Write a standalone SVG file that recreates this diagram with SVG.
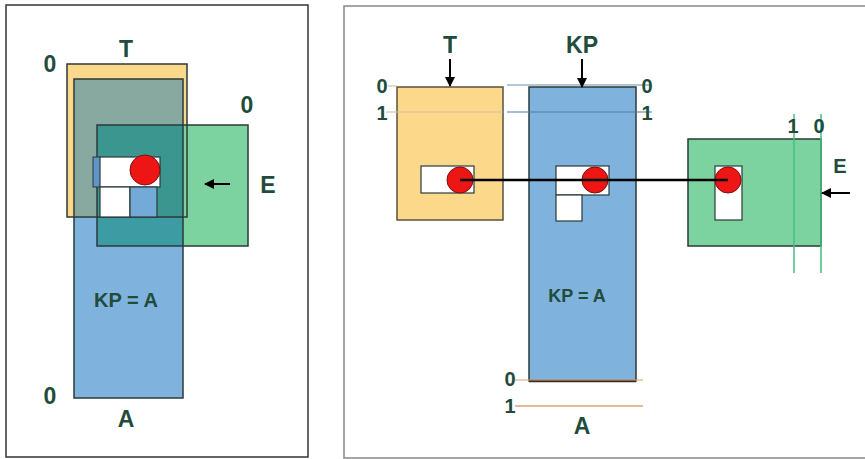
<svg xmlns="http://www.w3.org/2000/svg" width="865" height="459" viewBox="0 0 865 459">
<defs>
<style>
.lbl{font-family:"Liberation Sans",Arial,sans-serif;font-weight:bold;fill:#214c3c;text-anchor:middle}
.big{font-size:23px}
.mid{font-size:20px}
.sm{font-size:18px}
.ol{fill:none;stroke:#2b3a3a;stroke-width:1.5}
.wh{fill:#ffffff;stroke:#2b3a3a;stroke-width:1.2}
.dot{fill:#ee1515;stroke:#7a1010;stroke-width:1}
.arr{stroke:#000;stroke-width:2;fill:none}
</style>
<marker id="ah" viewBox="0 0 10 10" refX="9" refY="5" markerWidth="5" markerHeight="5" orient="auto" markerUnits="strokeWidth">
<path d="M0,0 L10,5 L0,10 Z" fill="#000"/>
</marker>
</defs>
<rect width="865" height="459" fill="#fff"/>
<!-- left panel -->
<g id="left-panel">
<rect x="6" y="5" width="302" height="452" fill="#fff" stroke="#333" stroke-width="1.5"/>
<g id="left-T"><rect x="67" y="64" width="120" height="153" fill="#fcd98a"/></g>
<g id="left-KP"><rect x="74" y="79" width="109" height="319" fill="#7fb2dc"/>
<rect x="74" y="79" width="109" height="138" fill="#88a99f"/></g>
<g id="left-E"><rect x="97" y="125" width="151" height="121" fill="#7dd3a0"/>
<rect x="97" y="125" width="86" height="121" fill="#3d9ba4"/>
<rect x="97" y="125" width="86" height="92" fill="#3a968e"/></g>
<rect class="ol" x="67" y="64" width="120" height="153"/>
<rect class="ol" x="74" y="79" width="109" height="319"/>
<rect class="ol" x="97" y="125" width="151" height="121"/>
<g id="left-cells">
<rect x="93" y="157" width="8" height="30" fill="#5f95c6" stroke="#2b3a3a" stroke-width="1"/>
<rect class="wh" x="100" y="157" width="60" height="30"/>
<rect class="wh" x="100" y="187" width="30" height="30"/>
<rect x="130" y="187" width="27" height="30" fill="#74aad8" stroke="#2b3a3a" stroke-width="1.2"/>
<circle class="dot" cx="145" cy="170" r="15"/>
</g>
<text class="lbl big" x="126" y="57">T</text>
<text class="lbl big" x="50" y="72">0</text>
<text class="lbl big" x="247" y="113">0</text>
<text class="lbl big" x="268" y="193">E</text>
<text class="lbl mid" x="126" y="307">KP = A</text>
<text class="lbl big" x="50" y="404">0</text>
<text class="lbl big" x="126" y="427">A</text>
</g>
<!-- right panel -->
<g id="right-panel">
<rect x="344" y="6" width="540" height="452" fill="#fff" stroke="#888" stroke-width="1.5"/>
<g id="right-T"><rect x="397" y="87" width="106" height="133" fill="#fcd98a" stroke="#5a5040" stroke-width="1.5"/>
<rect class="wh" x="421" y="166" width="53" height="27"/>
<circle class="dot" cx="460" cy="180" r="13"/></g>
<g id="right-KP"><rect x="529" y="87" width="107" height="294" fill="#7fb2dc" stroke="#2b3a3a" stroke-width="1.5"/>
<line x1="529" y1="381" x2="636" y2="381" stroke="#3a2a20" stroke-width="2.5"/>
<rect class="wh" x="556" y="166" width="53" height="29"/>
<rect class="wh" x="556" y="195" width="26" height="26"/>
<circle class="dot" cx="595" cy="180" r="13"/></g>
<g id="right-E"><rect x="688" y="139" width="133" height="107" fill="#7dd3a0" stroke="#2b3a3a" stroke-width="1.5"/>
<rect class="wh" x="715" y="166" width="27" height="54"/>
<circle class="dot" cx="728" cy="180" r="13"/></g>
<g id="ref-lines">
<line x1="388" y1="86" x2="397" y2="86" stroke="#c9b898" stroke-width="1"/>
<line x1="507" y1="85" x2="650" y2="85" stroke="#6a8fb0" stroke-width="1.2"/>
<line x1="386" y1="112" x2="503" y2="112" stroke="#cdbb9a" stroke-width="1.2"/>
<line x1="507" y1="112" x2="652" y2="112" stroke="#4a7fae" stroke-width="1.2"/>
<line x1="515" y1="380" x2="643" y2="380" stroke="#d9a070" stroke-width="1.2"/>
<line x1="515" y1="406" x2="643" y2="406" stroke="#e0a070" stroke-width="1.5"/>
<line x1="794" y1="114" x2="794" y2="273" stroke="#45bf7c" stroke-width="1.5"/>
<line x1="821" y1="114" x2="821" y2="273" stroke="#45bf7c" stroke-width="1.5"/>
</g>
<text class="lbl big" x="450" y="53">T</text>
<text class="lbl big" x="582" y="53">KP</text>
<text class="lbl mid" x="382" y="93">0</text>
<text class="lbl mid" x="382" y="120">1</text>
<text class="lbl mid" x="647" y="93">0</text>
<text class="lbl mid" x="647" y="120">1</text>
<text class="lbl mid" x="793" y="133">1</text>
<text class="lbl mid" x="819" y="133">0</text>
<text class="lbl mid" x="840" y="173">E</text>
<text class="lbl sm" x="577" y="302">KP = A</text>
<text class="lbl mid" x="510" y="386">0</text>
<text class="lbl mid" x="510" y="413">1</text>
<text class="lbl big" x="582" y="434">A</text>
</g>
<g id="connectors">
<line class="arr" x1="230" y1="184" x2="205" y2="184" marker-end="url(#ah)"/>
<line class="arr" x1="450" y1="59" x2="450" y2="86" marker-end="url(#ah)"/>
<line class="arr" x1="582" y1="59" x2="582" y2="87" marker-end="url(#ah)"/>
<line class="arr" x1="850" y1="193" x2="822" y2="193" marker-end="url(#ah)"/>
<line x1="460" y1="180" x2="728" y2="180" stroke="#000" stroke-width="2.5"/>
</g>
</svg>
